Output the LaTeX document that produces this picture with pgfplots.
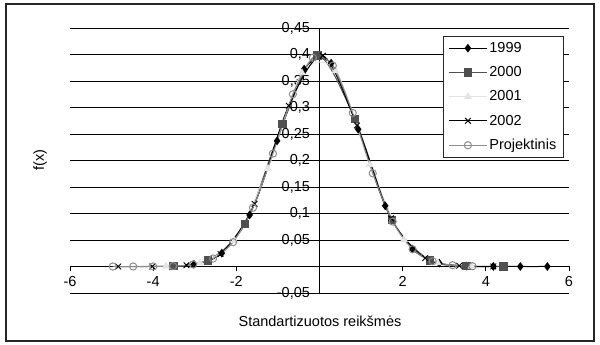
\documentclass[border=0pt]{standalone}
\usepackage{fontspec}
\setmainfont{Liberation Sans}
\usepackage{pgfplots}
\pgfplotsset{compat=1.18}
\definecolor{c2000}{RGB}{80,80,80}
\definecolor{cproj}{RGB}{140,140,140}
\definecolor{c2001}{RGB}{228,228,228}
\begin{document}
\begin{tikzpicture}[x=1pt,y=1pt]
\path[use as bounding box] (0,0) rectangle (600,345);
\draw[line width=1.1pt, black!85] (6,4) rectangle (594,341);
\begin{axis}[
  at={(70pt,52pt)}, anchor=south west, scale only axis,
  width=499pt, height=265pt,
  xmin=-6, xmax=6, ymin=-0.05, ymax=0.45,
  axis x line=middle, axis y line=middle,
  axis line style={-, black, line width=0.8pt},
  tick style={black, line width=0.8pt},
  tick align=outside, major tick length=5pt,
  xtick={-6,-4,-2,0,2,4,6},
  xticklabels={-6,-4,-2,0,2,4,6},
  ytick={-0.05,0,0.05,0.1,0.15,0.2,0.25,0.3,0.35,0.4,0.45},
  yticklabels={{-0,05},{0},{0,05},{0,1},{0,15},{0,2},{0,25},{0,3},{0,35},{0,4},{0,45}},
  font=\fontsize{14.5}{17}\selectfont,
  ymajorgrids, grid style={black, line width=0.8pt},
  xticklabel style={yshift=-1.5pt},
  yticklabel style={xshift=-1pt},
  xlabel={Standartizuotos reikšmės},
  ylabel={f(x)},
  xlabel style={at={(axis description cs:0.501,-0.106)}, anchor=center},
  ylabel style={at={(axis description cs:-0.06,0.502)}, anchor=center, rotate=90},
  legend style={at={(rel axis cs:0.7475,0.97)}, anchor=north west,
    draw=black!85, line width=0.8pt, fill=white,
    font=\fontsize{14.5}{17}\selectfont,
    row sep=8.6pt, inner xsep=5pt, inner ysep=4pt},
  legend cell align=left,
  legend image code/.code={\draw[mark repeat=2,mark phase=2] plot coordinates {(0pt,0pt)(19pt,0pt)(38pt,0pt)};},
  clip=false,
]
% 1999
\addplot[black, line width=1pt, smooth, mark=diamond*, mark size=3.6pt, mark options={solid, fill=black}] coordinates {
(-3.02,0.0042) (-2.35,0.0252) (-1.68,0.0973) (-1.02,0.2371) (-0.37,0.3724) (0.28,0.3836)
(0.93,0.2589) (1.58,0.1145) (2.23,0.0332) (2.88,0.0063) (3.53,0.0008) (4.18,0.0001) (4.83,0) (5.48,0)};
\addlegendentry{1999}
% 2000
\addplot[c2000, line width=1pt, smooth, mark=square*, mark size=3.8pt, mark options={solid, fill=c2000}] coordinates {
(-3.51,0.0008) (-2.68,0.0110) (-1.79,0.0804) (-0.89,0.2685) (-0.05,0.3984) (0.85,0.2780)
(1.74,0.0878) (2.66,0.0116) (3.54,0.0008) (4.42,0.0000)};
\addlegendentry{2000}
% 2001
\addplot[c2001, line width=1pt, smooth, mark=triangle*, mark size=3.6pt, mark options={solid, fill=c2001}] coordinates {
(-3.69,0.0004) (-2.87,0.0065) (-2.05,0.0488) (-1.24,0.1849) (-0.42,0.3652) (0.39,0.3693)
(1.21,0.1919) (2.03,0.0508) (2.84,0.0071) (3.66,0.0005)};
\addlegendentry{2001}
% 2002
\addplot[black, line width=1pt, smooth, mark=x, mark size=4pt, mark options={solid}] coordinates {
(-4.84,0.0000) (-4.02,0.0001) (-3.2,0.0024) (-2.38,0.0235) (-1.56,0.1182) (-0.74,0.3034)
(0.08,0.3977) (0.9,0.2661) (1.72,0.0909) (2.54,0.0158) (3.36,0.0014) (4.18,0.0001)};
\addlegendentry{2002}
% Projektinis
\addplot[cproj, line width=1pt, smooth, mark=o, mark size=3.6pt, mark options={solid}] coordinates {
(-4.97,0) (-4.48,0) (-4.0,0.0001) (-3.52,0.0008) (-3.04,0.0039) (-2.56,0.0151) (-2.08,0.0459)
(-1.6,0.1109) (-1.12,0.2131) (-0.64,0.3251) (-0.16,0.3939) (0.32,0.3790) (0.80,0.2897)
(1.28,0.1758) (1.76,0.0848) (2.24,0.0325) (2.72,0.0099) (3.2,0.0024) (3.68,0.0005)};
\addlegendentry{Projektinis}
\end{axis}
\end{tikzpicture}
\end{document}
